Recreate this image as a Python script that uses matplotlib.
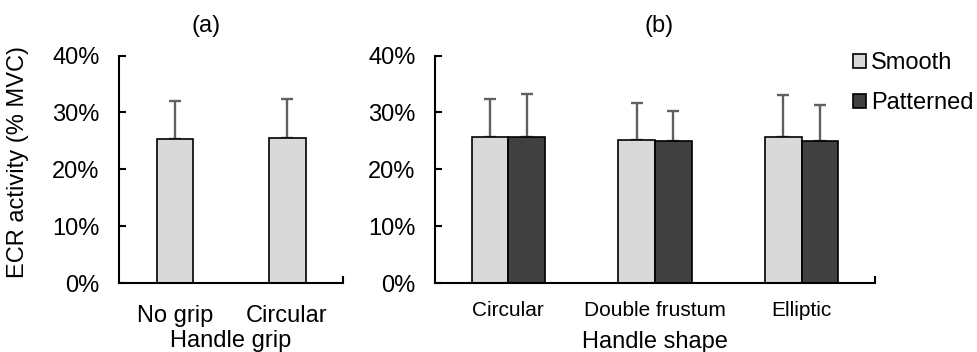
import matplotlib
matplotlib.use('Agg')
import matplotlib.pyplot as plt
import numpy as np
from matplotlib.ticker import PercentFormatter, FixedLocator

plt.rcParams['font.family'] = ['Liberation Sans', 'DejaVu Sans']

# ── Data (% MVC) ───────────────────────────────────────────────────
grip_labels = ['No grip', 'Circular']
grip_mean = [25.3, 25.5]
grip_sd = [6.8, 6.8]

shape_labels = ['Circular', 'Double frustum', 'Elliptic']
smooth_mean = [25.6, 25.1, 25.6]
smooth_sd = [6.8, 6.5, 7.4]
patterned_mean = [25.7, 25.0, 25.0]
patterned_sd = [7.5, 5.3, 6.4]

# ── Style ──────────────────────────────────────────────────────────
COL_SMOOTH = '#D9D9D9'
COL_PATT = '#404040'
COL_ERR = '#606060'
FS = 17

fig = plt.figure(figsize=(9.77, 3.52), dpi=100)
ax_a = fig.add_axes([0.1218, 0.196, 0.2293, 0.646])
ax_b = fig.add_axes([0.4452, 0.196, 0.4504, 0.646])

err_kw = dict(ecolor=COL_ERR, elinewidth=1.7, capsize=4.3, capthick=1.7)


def style_axis(ax, xmax, xtick_fs, xpad):
    ax.set_ylim(0, 40)
    ax.set_xlim(-0.5, xmax)
    ax.yaxis.set_major_locator(FixedLocator([0, 10, 20, 30, 40]))
    ax.yaxis.set_major_formatter(PercentFormatter(100, decimals=0))
    for s in ['top', 'right']:
        ax.spines[s].set_visible(False)
    for s in ['left', 'bottom']:
        ax.spines[s].set_linewidth(1.5)
    ax.tick_params(axis='y', direction='in', length=5, width=1.5,
                   labelsize=FS, pad=14)
    ax.tick_params(axis='x', direction='in', length=3, width=1.5,
                   labelsize=xtick_fs, pad=xpad)
    # end tick at the right of the category axis
    ax.xaxis.set_minor_locator(FixedLocator([xmax]))
    ax.tick_params(axis='x', which='minor', direction='in', length=5, width=1.5)


# ── (a) Handle grip ────────────────────────────────────────────────
xa = np.arange(len(grip_labels))
ax_a.bar(xa, grip_mean, width=0.33, color=COL_SMOOTH, edgecolor='black',
         linewidth=1.2, zorder=2)
ax_a.errorbar(xa, grip_mean, yerr=[np.zeros(len(grip_sd)), grip_sd],
              fmt='none', zorder=1, **err_kw)
style_axis(ax_a, 1.5, FS, 16)
ax_a.set_xticks(xa)
ax_a.set_xticklabels(grip_labels)
ax_a.set_xlabel('Handle grip', fontsize=FS, labelpad=2)
ax_a.set_ylabel('ECR activity (% MVC)', fontsize=FS)
ax_a.yaxis.set_label_coords(-0.40, 0.53)

# ── (b) Handle shape ───────────────────────────────────────────────
xb = np.arange(len(shape_labels))
w = 0.25
b1 = ax_b.bar(xb - w / 2, smooth_mean, width=w, color=COL_SMOOTH,
              edgecolor='black', linewidth=1.2, zorder=2, label='Smooth')
b2 = ax_b.bar(xb + w / 2, patterned_mean, width=w, color=COL_PATT,
              edgecolor='black', linewidth=1.2, zorder=2, label='Patterned')
ax_b.errorbar(xb - w / 2, smooth_mean,
              yerr=[np.zeros(len(smooth_sd)), smooth_sd],
              fmt='none', zorder=1, **err_kw)
ax_b.errorbar(xb + w / 2, patterned_mean,
              yerr=[np.zeros(len(patterned_sd)), patterned_sd],
              fmt='none', zorder=1, **err_kw)
style_axis(ax_b, 2.5, 15, 13)
ax_b.set_xticks(xb)
ax_b.set_xticklabels(shape_labels)
ax_b.tick_params(axis='x', which='major', length=0)
ax_b.set_xlabel('Handle shape', fontsize=FS, labelpad=8)

fig.legend(handles=[b1, b2], loc='upper left',
           bbox_to_anchor=(0.873, 0.851), frameon=False, fontsize=FS,
           handlelength=0.55, handleheight=0.55, handletextpad=0.2,
           labelspacing=0.75, borderpad=0, borderaxespad=0)

# ── Panel titles ───────────────────────────────────────────────────
fig.text(206 / 977, 1 - 26 / 352, '(a)', fontsize=FS, ha='center', va='center')
fig.text(659 / 977, 1 - 26 / 352, '(b)', fontsize=FS, ha='center', va='center')

fig.savefig('out.png', dpi=100, facecolor='white')
